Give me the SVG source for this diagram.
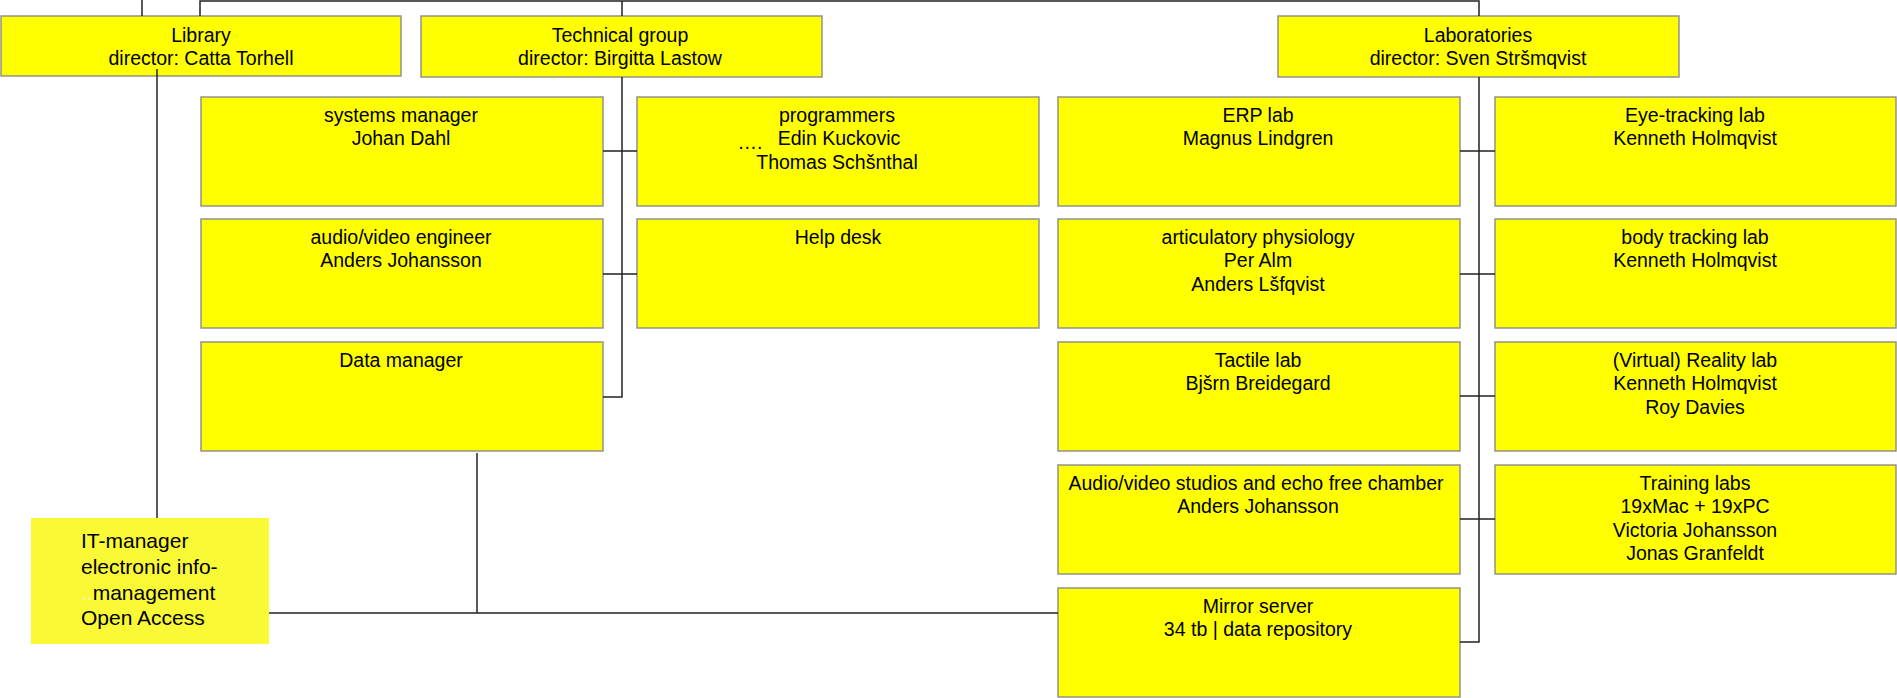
<svg xmlns="http://www.w3.org/2000/svg" width="1897" height="698" viewBox="0 0 1897 698">
<style>
.box{fill:#ffff00;stroke:#8c8c8c;stroke-width:1.4}
.it{fill:#f9f935;stroke:none}
.t{font-family:"Liberation Sans",Arial,sans-serif;font-size:19.5px;fill:#000;text-anchor:middle}
.tl{font-family:"Liberation Sans",Arial,sans-serif;font-size:21px;fill:#000}
.c{fill:none;stroke:#222;stroke-width:1.5}
</style>
<rect width="1897" height="698" fill="#fff"/>
<g id="library"><rect class="box" x="1" y="16" width="400" height="60"/><text class="t" x="201" y="41.5">Library</text><text class="t" x="201" y="65">director: Catta Torhell</text></g>
<g id="technical"><rect class="box" x="421" y="16" width="401" height="61"/><text class="t" x="620" y="41.5">Technical group</text><text class="t" x="620" y="65">director: Birgitta Lastow</text></g>
<g id="laboratories"><rect class="box" x="1278" y="16" width="401" height="61"/><text class="t" x="1478" y="41.5">Laboratories</text><text class="t" x="1478" y="65">director: Sven Stršmqvist</text></g>
<g id="systems"><rect class="box" x="201" y="97" width="402" height="109"/><text class="t" x="401" y="121.5">systems manager</text><text class="t" x="401" y="145">Johan Dahl</text></g>
<g id="avengineer"><rect class="box" x="201" y="219" width="402" height="109"/><text class="t" x="401" y="243.5">audio/video engineer</text><text class="t" x="401" y="267">Anders Johansson</text></g>
<g id="datamanager"><rect class="box" x="201" y="342" width="402" height="109"/><text class="t" x="401" y="366.5">Data manager</text></g>
<g id="programmers"><rect class="box" x="637" y="97" width="402" height="109"/><text class="t" x="837" y="121.5">programmers</text><text class="t" x="839" y="145">Edin Kuckovic</text><text class="t" x="837" y="168.5">Thomas Schšnthal</text><text class="t" x="750" y="149">….</text></g>
<g id="helpdesk"><rect class="box" x="637" y="219" width="402" height="109"/><text class="t" x="838" y="243.5">Help desk</text></g>
<g id="erp"><rect class="box" x="1058" y="97" width="402" height="109"/><text class="t" x="1258" y="121.5">ERP lab</text><text class="t" x="1258" y="145">Magnus Lindgren</text></g>
<g id="articulatory"><rect class="box" x="1058" y="219" width="402" height="109"/><text class="t" x="1258" y="243.5">articulatory physiology</text><text class="t" x="1258" y="267">Per Alm</text><text class="t" x="1258" y="290.5">Anders Lšfqvist</text></g>
<g id="tactile"><rect class="box" x="1058" y="342" width="402" height="109"/><text class="t" x="1258" y="366.5">Tactile lab</text><text class="t" x="1258" y="390">Bjšrn Breidegard</text></g>
<g id="avstudios"><rect class="box" x="1058" y="465" width="402" height="109"/><text class="t" x="1256" y="489.5">Audio/video studios and echo free chamber</text><text class="t" x="1258" y="513">Anders Johansson</text></g>
<g id="mirror"><rect class="box" x="1058" y="588" width="402" height="109"/><text class="t" x="1258" y="612.5">Mirror server</text><text class="t" x="1258" y="636">34 tb | data repository</text></g>
<g id="eyetracking"><rect class="box" x="1495" y="97" width="401" height="109"/><text class="t" x="1695" y="121.5">Eye-tracking lab</text><text class="t" x="1695" y="145">Kenneth Holmqvist</text></g>
<g id="bodytracking"><rect class="box" x="1495" y="219" width="401" height="109"/><text class="t" x="1695" y="243.5">body tracking lab</text><text class="t" x="1695" y="267">Kenneth Holmqvist</text></g>
<g id="reality"><rect class="box" x="1495" y="342" width="401" height="109"/><text class="t" x="1695" y="366.5">(Virtual) Reality lab</text><text class="t" x="1695" y="390">Kenneth Holmqvist</text><text class="t" x="1695" y="413.5">Roy Davies</text></g>
<g id="training"><rect class="box" x="1495" y="465" width="401" height="109"/><text class="t" x="1695" y="489.5">Training labs</text><text class="t" x="1695" y="513">19xMac + 19xPC</text><text class="t" x="1695" y="536.5">Victoria Johansson</text><text class="t" x="1695" y="560">Jonas Granfeldt</text></g>
<g id="itmanager"><rect class="it" x="31" y="518" width="238" height="126"/><text class="tl" x="81" y="548">IT-manager</text><text class="tl" x="81" y="574">electronic info-</text><text class="tl" x="81" y="599.5"><tspan fill="#f4f4b0">..</tspan>management</text><text class="tl" x="81" y="625">Open Access</text></g>
<g id="connectors">
<path class="c" d="M142 0V16"/>
<path class="c" d="M200 16V1H1479V16"/>
<path class="c" d="M622 1V16"/>
<path class="c" d="M622 77V397H603"/>
<path class="c" d="M603 151H637M603 274H637"/>
<path class="c" d="M157 69V518"/>
<path class="c" d="M477 453V613"/>
<path class="c" d="M269 613H1058"/>
<path class="c" d="M1479 77V642H1460"/>
<path class="c" d="M1460 151H1495M1460 274H1495M1460 396H1495M1460 519H1495"/>
</g>
</svg>
